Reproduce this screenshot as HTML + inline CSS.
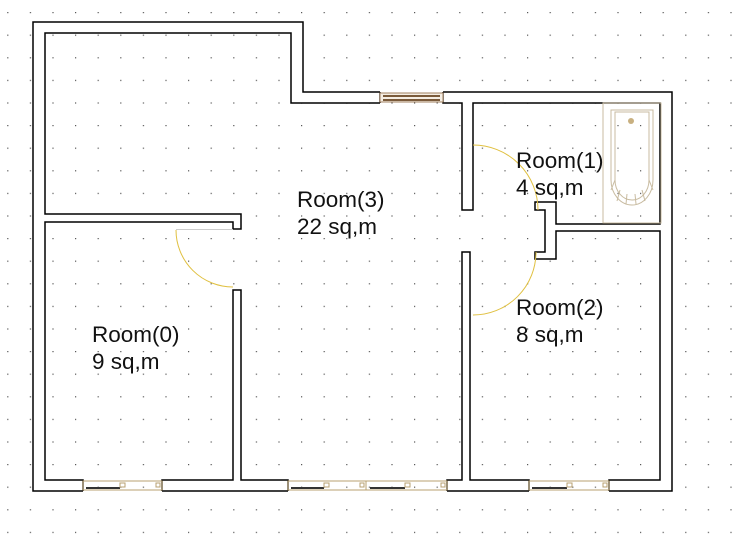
<!DOCTYPE html>
<html><head><meta charset="utf-8"><style>
html,body{margin:0;padding:0;background:#fff;}
svg{display:block;}
text{font-family:"Liberation Sans",sans-serif;font-size:22.5px;fill:#111;}
</style></head><body>
<svg width="738" height="539" viewBox="0 0 738 539" xmlns="http://www.w3.org/2000/svg">
<defs>
<pattern id="g" x="7.2" y="12" width="22.6" height="22.6" patternUnits="userSpaceOnUse">
<rect x="0" y="0" width="1.2" height="1.2" fill="#555"/>
</pattern>
</defs>
<rect width="738" height="539" fill="#fff"/>
<rect width="738" height="539" fill="url(#g)"/>
<g fill="#fff" stroke="none">
<polygon points="33,22 303,22 303,92 380,92 380,103 291,103 291,33 45,33 45,480 83,480 83,491 33,491"/>
<rect x="443" y="92" width="229" height="11"/>
<rect x="660" y="92" width="12" height="399"/>
<rect x="609" y="480" width="63" height="11"/>
<rect x="447" y="480" width="82" height="11"/>
<rect x="162" y="480" width="126" height="11"/>
<rect x="462" y="103" width="11" height="107"/>
<rect x="462" y="252" width="8" height="228"/>
<rect x="233" y="290" width="8" height="190"/>
<rect x="45" y="214" width="196" height="8"/>
<rect x="233" y="214" width="8" height="15"/>
<rect x="556" y="224" width="104" height="7"/>
<rect x="535" y="202" width="21" height="57"/>
</g>
<g fill="none" stroke="#000" stroke-width="1.5">
<polyline points="380,92 303,92 303,22 33,22 33,491 83,491"/>
<polyline points="443,92 672,92 672,491 609,491"/>
<line x1="447" y1="491" x2="529" y2="491"/>
<line x1="162" y1="491" x2="288" y2="491"/>
<polyline points="380,103 291,103 291,33 45,33 45,214 241,214 241,229 233,229 233,222 45,222 45,480 83,480 83,491"/>
<line x1="380" y1="92" x2="380" y2="103"/>
<polyline points="443,92 443,103 462,103 462,210 473,210 473,103 660,103 660,224 556,224 556,202 535,202 535,210 545,210 545,252 535,252 535,259 556,259 556,231 660,231 660,480 609,480 609,491"/>
<polyline points="529,491 529,480 470,480 470,252 462,252 462,480 447,480 447,491"/>
<polyline points="288,491 288,480 241,480 241,290 233,290 233,480 162,480 162,491"/>
</g>
<g stroke="#a08060" fill="none" stroke-width="1">
<rect x="380" y="93" width="63" height="9" fill="#f5eee4"/>
<line x1="383" y1="96" x2="440" y2="96" stroke="#7a5a3a" stroke-width="2"/>
<line x1="383" y1="100" x2="440" y2="100" stroke="#7a5a3a" stroke-width="2"/>
</g>
<g stroke="#b8a070" fill="none" stroke-width="1">
<rect x="83" y="481" width="79" height="9"/>
<rect x="288" y="481" width="78" height="9"/>
<rect x="366" y="481" width="81" height="9"/>
<rect x="529" y="481" width="80" height="9"/>
</g>
<g stroke="#333" stroke-width="2">
<line x1="86" y1="488" x2="120" y2="488"/>
<line x1="291" y1="488" x2="324" y2="488"/>
<line x1="370" y1="488" x2="405" y2="488"/>
<line x1="532" y1="488" x2="567" y2="488"/>
</g>
<g stroke="#b8a070" fill="#fff" stroke-width="1">
<rect x="120" y="483" width="5" height="4"/><rect x="156" y="483" width="4" height="4"/>
<rect x="324" y="483" width="5" height="4"/><rect x="360" y="483" width="4" height="4"/>
<rect x="405" y="483" width="5" height="4"/><rect x="441" y="483" width="4" height="4"/>
<rect x="567" y="483" width="5" height="4"/><rect x="603" y="483" width="4" height="4"/>
</g>
<g fill="none" stroke="#e0c040" stroke-width="1">
<path d="M473,145 A65,65 0 0 1 538,210"/>
<path d="M536,252 A63,63 0 0 1 473,315"/>
<path d="M176,230 A57,57 0 0 0 233,287"/>
</g>
<line x1="176" y1="229.5" x2="233" y2="229.5" stroke="#ccc" stroke-width="1"/>
<g fill="none" stroke="#c8bba0" stroke-width="1">
<rect x="603" y="103" width="58" height="120"/>
<path d="M611,110 H653 V180 A21,25 0 0 1 611,180 Z"/>
<path d="M615,112 H649 V180 A17,20 0 0 1 615,180 Z"/>
<path d="M615,180 L611,190 M620,190 L617,201 M627,194 L626,204 M635,194 L636,204 M642,190 L645,201 M649,180 L653,190"/>
</g>
<circle cx="631" cy="121" r="3" fill="#c8b080"/>
<text x="297" y="207">Room(3)</text>
<text x="297" y="234">22 sq,m</text>
<text x="92" y="342">Room(0)</text>
<text x="92" y="369">9 sq,m</text>
<text x="516" y="168">Room(1)</text>
<text x="516" y="195">4 sq,m</text>
<text x="516" y="315">Room(2)</text>
<text x="516" y="342">8 sq,m</text>
</svg>
</body></html>
